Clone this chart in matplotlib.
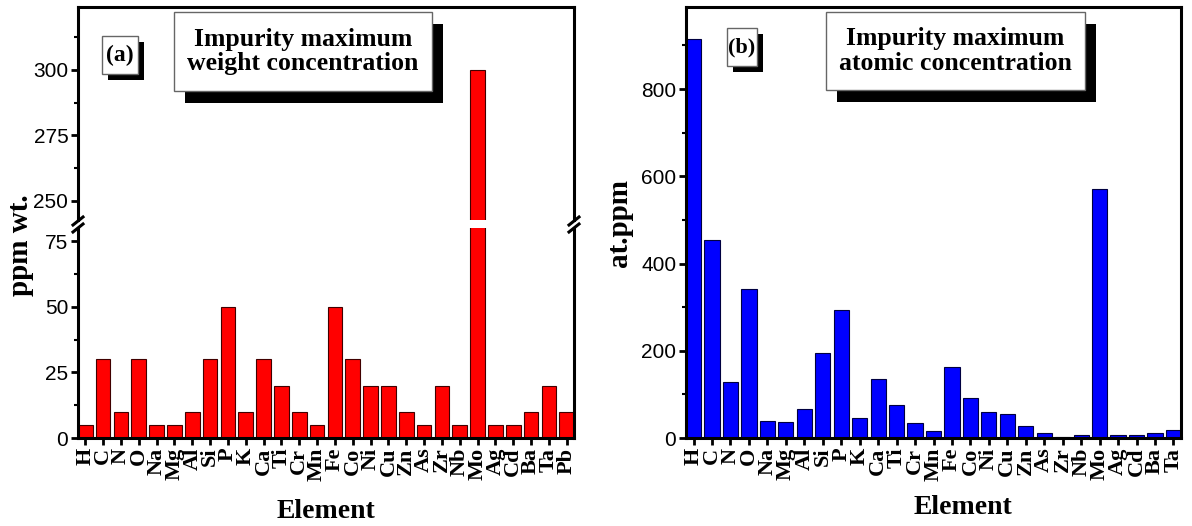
import numpy as np
import matplotlib.pyplot as plt
from matplotlib.patches import Rectangle

# data
elements_wt = ['H', 'C', 'N', 'O', 'Na', 'Mg', 'Al', 'Si', 'P', 'K', 'Ca', 'Ti', 'Cr', 'Mn',
               'Fe', 'Co', 'Ni', 'Cu', 'Zn', 'As', 'Zr', 'Nb', 'Mo', 'Ag', 'Cd', 'Ba', 'Ta', 'Pb']
ppm_wt = [5, 30, 10, 30, 5, 5, 10, 30, 50, 10, 30, 20, 10, 5,
          50, 30, 20, 20, 10, 5, 20, 5, 300, 5, 5, 10, 20, 10]
elements_at = elements_wt[:-1]
at_ppm = [915, 455, 129, 341, 38, 36, 66, 194, 293, 45, 135, 76, 34, 15,
          162, 91, 60, 56, 27, 11, 2, 8, 570, 6, 6, 11, 18]

W, H = 1192, 526
fig = plt.figure(figsize=(W / 100, H / 100), dpi=100)

SERIF = 'Liberation Serif'
SANS = 'Liberation Sans'


def box(x0, y0, x1, y1):
    # pixel box (from top left) -> figure fraction rect
    return [x0 / W, 1 - y1 / H, (x1 - x0) / W, (y1 - y0) / H]


def style(ax):
    for s in ax.spines.values():
        s.set_linewidth(2.2)
    ax.tick_params(axis='both', which='major', direction='out', length=5, width=2)
    ax.tick_params(axis='y', which='minor', direction='out', length=3, width=1.5)
    ax.tick_params(axis='y', labelsize=15, pad=2)
    ax.tick_params(axis='x', pad=2)
    for lab in ax.get_yticklabels():
        lab.set_fontfamily(SANS)


ax_lo = fig.add_axes(box(78, 228, 574, 438))
ax_hi = fig.add_axes(box(78, 7, 574, 220))
ax_b = fig.add_axes(box(686, 7, 1181, 438))

x_wt = np.arange(len(elements_wt))
for ax in (ax_lo, ax_hi):
    ax.bar(x_wt, ppm_wt, width=0.82, color='#ff0000', edgecolor='#400000', linewidth=0.8)
    ax.set_xlim(-0.41, len(elements_wt) - 0.59)

ax_lo.set_ylim(0, 80)
ax_lo.set_yticks([0, 25, 50, 75])
ax_lo.set_yticks([12.5, 37.5, 62.5], minor=True)
ax_lo.spines['top'].set_visible(False)
ax_lo.set_xticks(x_wt)
ax_lo.set_xticklabels(elements_wt, rotation=90, fontfamily=SERIF, fontweight='bold', fontsize=16)
style(ax_lo)

ax_hi.set_ylim(242.7, 324)
ax_hi.set_yticks([250, 275, 300])
ax_hi.set_yticks([262.5, 287.5, 312.5], minor=True)
ax_hi.spines['bottom'].set_visible(False)
ax_hi.set_xticks([])
style(ax_hi)

x_at = np.arange(len(elements_at))
ax_b.bar(x_at, at_ppm, width=0.82, color='#0000ff', edgecolor='#000040', linewidth=0.8)
ax_b.set_xlim(-0.41, len(elements_at) - 0.59)
ax_b.set_ylim(0, 988)
ax_b.set_yticks([0, 200, 400, 600, 800])
ax_b.set_yticks([100, 300, 500, 700, 900], minor=True)
ax_b.set_xticks(x_at)
ax_b.set_xticklabels(elements_at, rotation=90, fontfamily=SERIF, fontweight='bold', fontsize=16)
style(ax_b)

# break marks on the left panel
for xp in (78, 574):
    for yc in (221, 228):
        fig.add_artist(plt.Line2D([(xp - 5) / W, (xp + 5) / W],
                                  [1 - (yc + 4) / H, 1 - (yc - 4) / H],
                                  color='black', lw=2.2))

# axis labels
fig.text(20 / W, 1 - 245 / H, 'ppm wt.', rotation=90, ha='center', va='center',
         fontfamily=SERIF, fontweight='bold', fontsize=21)
fig.text(326 / W, 1 - 511 / H, 'Element', ha='center', va='center',
         fontfamily=SERIF, fontweight='bold', fontsize=20)
fig.text(620 / W, 1 - 223 / H, 'at.ppm', rotation=90, ha='center', va='center',
         fontfamily=SERIF, fontweight='bold', fontsize=21)
fig.text(963 / W, 1 - 507 / H, 'Element', ha='center', va='center',
         fontfamily=SERIF, fontweight='bold', fontsize=20)


def shadow_box(x0, y0, x1, y1, s, size, dx, dy):
    fig.add_artist(Rectangle(((x0 + dx) / W, 1 - (y1 + dy) / H), (x1 - x0) / W, (y1 - y0) / H,
                             transform=fig.transFigure, fc='black', ec='black', lw=0, zorder=5))
    fig.add_artist(Rectangle((x0 / W, 1 - y1 / H), (x1 - x0) / W, (y1 - y0) / H,
                             transform=fig.transFigure, fc='white', ec='0.4', lw=1, zorder=6))
    fig.text((x0 + x1) / 2 / W, 1 - (y0 + y1) / 2 / H, s, ha='center', va='center',
             fontfamily=SERIF, fontweight='bold', fontsize=size, linespacing=1.1, zorder=7)


shadow_box(102, 36, 138, 74, '(a)', 17, 6, 6)
shadow_box(174, 12, 432, 91, 'Impurity maximum\nweight concentration', 18.5, 11, 12)
shadow_box(727, 28, 757, 66, '(b)', 16, 6, 6)
shadow_box(826, 12, 1085, 90, 'Impurity maximum\natomic concentration', 18.5, 11, 12)

fig.savefig('out.png', dpi=100)
